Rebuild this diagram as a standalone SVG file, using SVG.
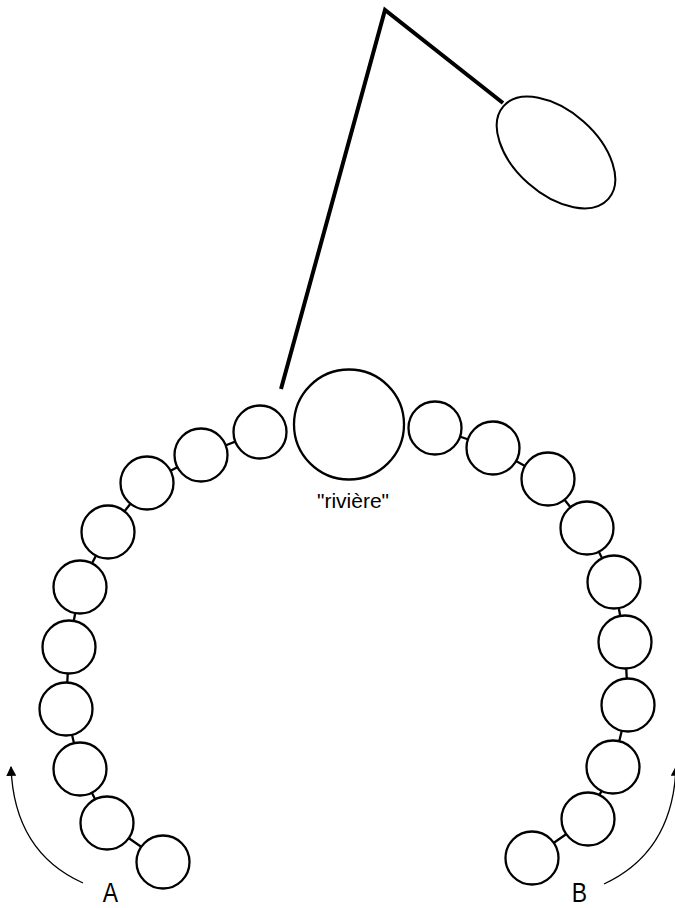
<svg xmlns="http://www.w3.org/2000/svg" width="675" height="908" viewBox="0 0 675 908">
<style>
.bead{fill:#fff;stroke:#000;stroke-width:2.3}
.link{stroke:#000;stroke-width:2.3;fill:none}
.cord{stroke:#000;stroke-width:4;fill:none;stroke-linejoin:miter}
.arr{stroke:#000;stroke-width:1.3;fill:none}
.lbl{font-family:"Liberation Sans",Arial,sans-serif;fill:#000}
</style>
<defs>
<marker id="ah" markerWidth="10" markerHeight="10" refX="8" refY="4.5" orient="auto" markerUnits="userSpaceOnUse" viewBox="0 0 9 9">
<path d="M0,0 L9,4.5 L0,9 Z" fill="#000"/>
</marker>
</defs>
<rect width="675" height="908" fill="#fff"/>
<g id="cord">
<polyline class="cord" points="281,389 385,10 503,103"/>
</g>
<g id="pendant">
<ellipse cx="556" cy="152.5" rx="70" ry="41.5" transform="rotate(41.5 556 152.5)" fill="#fff" stroke="#000" stroke-width="2"/>
</g>
<g id="connectors">
<polyline class="link" points="260,432 201,455 147,483 108,532 80,587 69,647 66,709 80,769 107,823 163,862"/>
<polyline class="link" points="435,428 493,448 548,479 587,528 614,582 625,642 628,705 613,767 588,819 532,858"/>
<path class="arr" d="M83,883 Q14,852 11,767" marker-end="url(#ah)"/>
<path class="arr" d="M604,884 Q673,852 676,767" marker-end="url(#ah)"/>
</g>
<g id="rivière">
<circle class="bead" cx="349" cy="424.5" r="55"/>
<text class="lbl" x="353" y="507.5" font-size="21" text-anchor="middle">"rivière"</text>
</g>
<g id="left-beads">
<circle id="L1" class="bead" cx="260" cy="432" r="26.5"/>
<circle id="L2" class="bead" cx="201" cy="455" r="26.5"/>
<circle id="L3" class="bead" cx="147" cy="483" r="26.5"/>
<circle id="L4" class="bead" cx="108" cy="532" r="26.5"/>
<circle id="L5" class="bead" cx="80" cy="587" r="26.5"/>
<circle id="L6" class="bead" cx="69" cy="647" r="26.5"/>
<circle id="L7" class="bead" cx="66" cy="709" r="26.5"/>
<circle id="L8" class="bead" cx="80" cy="769" r="26.5"/>
<circle id="L9" class="bead" cx="107" cy="823" r="26.5"/>
<circle id="L10" class="bead" cx="163" cy="862" r="26.5"/>
</g>
<g id="right-beads">
<circle id="R1" class="bead" cx="435" cy="428" r="26.5"/>
<circle id="R2" class="bead" cx="493" cy="448" r="26.5"/>
<circle id="R3" class="bead" cx="548" cy="479" r="26.5"/>
<circle id="R4" class="bead" cx="587" cy="528" r="26.5"/>
<circle id="R5" class="bead" cx="614" cy="582" r="26.5"/>
<circle id="R6" class="bead" cx="625" cy="642" r="26.5"/>
<circle id="R7" class="bead" cx="628" cy="705" r="26.5"/>
<circle id="R8" class="bead" cx="613" cy="767" r="26.5"/>
<circle id="R9" class="bead" cx="588" cy="819" r="26.5"/>
<circle id="R10" class="bead" cx="532" cy="858" r="26.5"/>
</g>
<g id="label-A">
<text class="lbl" font-size="27" text-anchor="middle" transform="translate(110.5,902) scale(0.85,1)">A</text>
</g>
<g id="label-B">
<text class="lbl" font-size="27" text-anchor="middle" transform="translate(579.5,902) scale(0.85,1)">B</text>
</g>
</svg>
